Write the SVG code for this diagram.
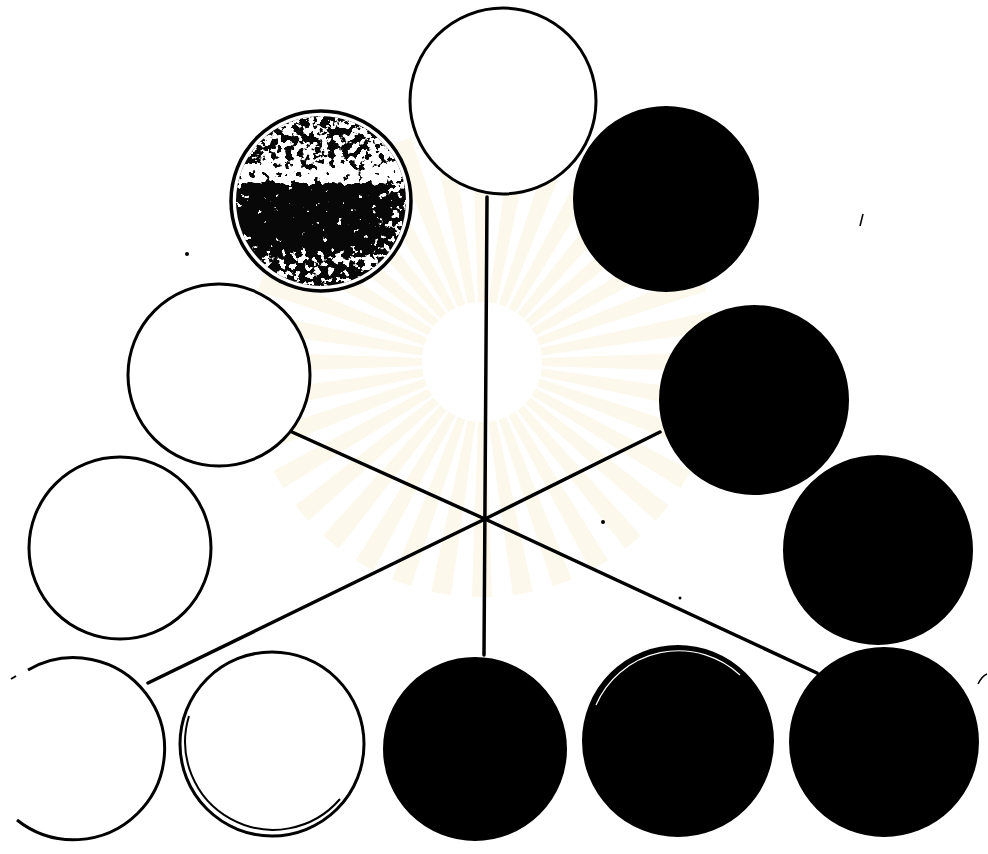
<svg xmlns="http://www.w3.org/2000/svg" width="988" height="854" viewBox="0 0 988 854">
<style>
.w{fill:#fff;stroke:#000;stroke-width:3}
.b{fill:#000;stroke:#000;stroke-width:2}
.ln{stroke:#000;stroke-width:3.5;fill:none;stroke-linecap:round}
.ray{fill:#fcf8eb}
</style>
<defs>
<path id="ray" class="ray" d="M60 -4L235 -10L235 10L60 4Z"/>
<filter id="speck" x="230" y="110" width="182" height="182" filterUnits="userSpaceOnUse" color-interpolation-filters="sRGB">
<feTurbulence type="fractalNoise" baseFrequency="0.14" numOctaves="3" seed="7" result="n0"/>
<feColorMatrix in="n0" type="matrix" values="1 0 0 0 0  1 0 0 0 0  1 0 0 0 0  0 0 0 0 1" result="n"/>
<feComposite in="n" in2="SourceGraphic" operator="arithmetic" k1="0" k2="1" k3="0.7" k4="-0.35" result="s"/>
<feColorMatrix in="s" type="matrix" values="0 0 0 0 1  0 0 0 0 1  0 0 0 0 1  24 0 0 0 -12"/>
</filter>
<linearGradient id="mg" gradientUnits="userSpaceOnUse" x1="0" y1="111" x2="0" y2="291">
<stop offset="0" stop-color="rgb(52%,52%,52%)"/>
<stop offset="0.28" stop-color="rgb(52%,52%,52%)"/>
<stop offset="0.33" stop-color="rgb(78%,78%,78%)"/>
<stop offset="0.39" stop-color="rgb(72%,72%,72%)"/>
<stop offset="0.42" stop-color="rgb(14%,14%,14%)"/>
<stop offset="0.74" stop-color="rgb(18%,18%,18%)"/>
<stop offset="0.8" stop-color="rgb(46%,46%,46%)"/>
<stop offset="1" stop-color="rgb(44%,44%,44%)"/>
</linearGradient>
<linearGradient id="hg" gradientUnits="userSpaceOnUse" x1="230" y1="0" x2="412" y2="0">
<stop offset="0" stop-color="#fff" stop-opacity="0.25"/>
<stop offset="0.12" stop-color="#fff" stop-opacity="0"/>
<stop offset="0.72" stop-color="#fff" stop-opacity="0"/>
<stop offset="1" stop-color="#fff" stop-opacity="0.45"/>
</linearGradient>
<clipPath id="c2"><circle cx="321" cy="201" r="85"/></clipPath>
</defs>
<rect width="988" height="854" fill="#fff"/>
<g id="watermark" transform="translate(482,362)">
<use href="#ray" transform="rotate(0)"/><use href="#ray" transform="rotate(10)"/><use href="#ray" transform="rotate(20)"/>
<use href="#ray" transform="rotate(30)"/><use href="#ray" transform="rotate(40)"/><use href="#ray" transform="rotate(50)"/>
<use href="#ray" transform="rotate(60)"/><use href="#ray" transform="rotate(70)"/><use href="#ray" transform="rotate(80)"/>
<use href="#ray" transform="rotate(90)"/><use href="#ray" transform="rotate(100)"/><use href="#ray" transform="rotate(110)"/>
<use href="#ray" transform="rotate(120)"/><use href="#ray" transform="rotate(130)"/><use href="#ray" transform="rotate(140)"/>
<use href="#ray" transform="rotate(150)"/><use href="#ray" transform="rotate(160)"/><use href="#ray" transform="rotate(170)"/>
<use href="#ray" transform="rotate(180)"/><use href="#ray" transform="rotate(190)"/><use href="#ray" transform="rotate(200)"/>
<use href="#ray" transform="rotate(210)"/><use href="#ray" transform="rotate(220)"/><use href="#ray" transform="rotate(230)"/>
<use href="#ray" transform="rotate(240)"/><use href="#ray" transform="rotate(250)"/><use href="#ray" transform="rotate(260)"/>
<use href="#ray" transform="rotate(270)"/><use href="#ray" transform="rotate(280)"/><use href="#ray" transform="rotate(290)"/>
<use href="#ray" transform="rotate(300)"/><use href="#ray" transform="rotate(310)"/><use href="#ray" transform="rotate(320)"/>
<use href="#ray" transform="rotate(330)"/><use href="#ray" transform="rotate(340)"/><use href="#ray" transform="rotate(350)"/>
</g>
<g id="connectors">
<path class="ln" d="M487 197L484 655"/>
<path class="ln" d="M292 432L485 519"/>
<path class="ln" d="M485 519L660 432"/>
<path class="ln" d="M148 683L485 519"/>
<path class="ln" d="M485 519L817 673"/>
</g>
<g id="n1"><circle class="w" cx="503" cy="101" r="93"/></g>
<g id="n2">
<circle cx="321" cy="201" r="90" fill="#fff" stroke="#000" stroke-width="3.5"/>
<g clip-path="url(#c2)">
<rect x="230" y="110" width="182" height="182" fill="#080808"/>
<g filter="url(#speck)">
<rect x="230" y="110" width="182" height="182" fill="url(#mg)"/>
<rect x="230" y="110" width="182" height="182" fill="url(#hg)"/>
</g>
</g>
</g>
<g id="n3"><circle class="b" cx="666" cy="199" r="92"/></g>
<g id="n4"><circle class="w" cx="219" cy="375" r="91"/></g>
<g id="n5"><circle class="b" cx="754" cy="400" r="94"/></g>
<g id="n6"><circle class="w" cx="120" cy="548" r="91"/></g>
<g id="n7"><circle class="b" cx="878" cy="550" r="94"/></g>
<g id="n8">
<path d="M28 670A91 91 0 1 1 17 820" fill="none" stroke="#000" stroke-width="3"/>
<path d="M11 679L16 676" stroke="#000" stroke-width="2"/>
</g>
<g id="n9">
<circle cx="272" cy="744" r="92" fill="#fff" stroke="#000" stroke-width="3"/>
<path d="M189 716A88 88 0 0 0 340 799" fill="none" stroke="#000" stroke-width="2"/>
</g>
<g id="n10"><circle class="b" cx="475" cy="749" r="91"/></g>
<g id="n11">
<circle class="b" cx="678" cy="741" r="95"/>
<path d="M596 705A90 90 0 0 1 740 675" fill="none" stroke="#fff" stroke-width="1.2"/>
</g>
<g id="n12"><circle class="b" cx="884" cy="742" r="94"/></g>
<g id="specks" fill="#000">
<circle cx="187" cy="254" r="2"/>
<circle cx="603" cy="522" r="2"/>
<circle cx="680" cy="598" r="1.5"/>
<path d="M860 226L863 214" stroke="#000" stroke-width="1.5"/>
<path d="M978 684Q982 676 987 674" stroke="#000" stroke-width="1.5" fill="none"/>
</g>
</svg>
